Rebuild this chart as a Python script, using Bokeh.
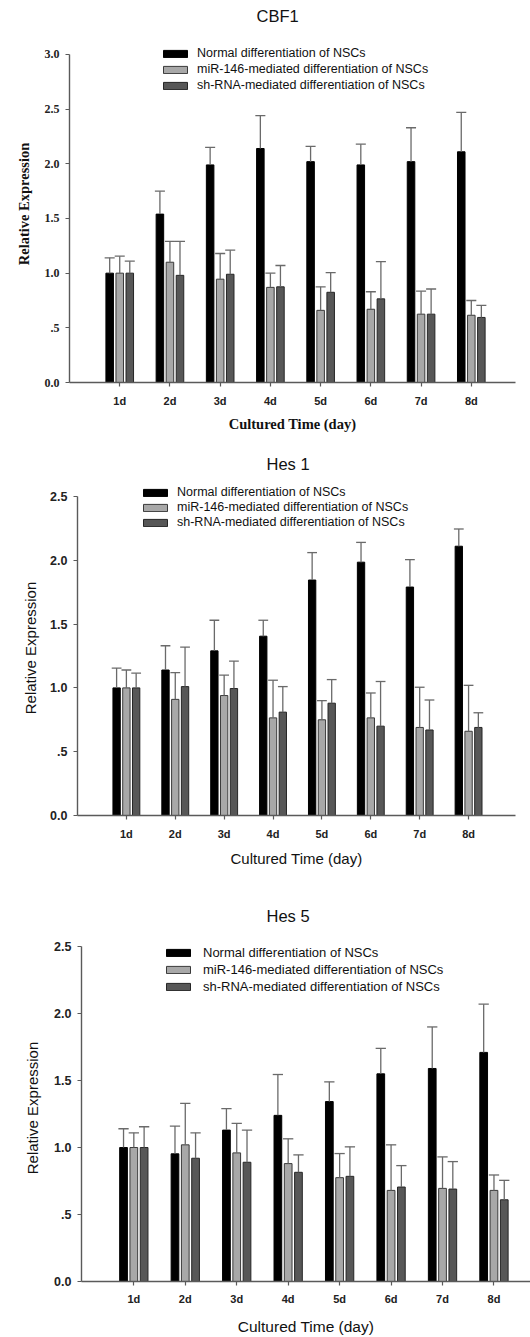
import numpy as np
from bokeh.plotting import figure
from bokeh.models import Legend, LegendItem, FixedTicker, Title, Range1d
from bokeh.embed import file_html
from bokeh.resources import INLINE

days = ["1d", "2d", "3d", "4d", "5d", "6d", "7d", "8d"]
series_names = ["Normal differentiation of NSCs",
                "miR-146-mediated differentiation of NSCs",
                "sh-RNA-mediated differentiation of NSCs"]

# CBF1 (bar value, top of error bar)
cbf1_normal = [1.00, 1.54, 1.99, 2.14, 2.02, 1.99, 2.02, 2.11]
cbf1_normal_top = [1.14, 1.75, 2.15, 2.44, 2.16, 2.18, 2.33, 2.47]
cbf1_mir = [1.00, 1.10, 0.945, 0.87, 0.66, 0.67, 0.625, 0.615]
cbf1_mir_top = [1.155, 1.29, 1.18, 1.00, 0.875, 0.83, 0.835, 0.75]
cbf1_sh = [1.00, 0.98, 0.99, 0.875, 0.825, 0.765, 0.625, 0.595]
cbf1_sh_top = [1.11, 1.29, 1.21, 1.07, 1.005, 1.105, 0.855, 0.705]

# Hes 1
hes1_normal = [1.00, 1.14, 1.29, 1.405, 1.845, 1.985, 1.79, 2.11]
hes1_normal_top = [1.155, 1.33, 1.53, 1.53, 2.06, 2.14, 2.005, 2.245]
hes1_mir = [1.00, 0.91, 0.94, 0.765, 0.75, 0.765, 0.69, 0.66]
hes1_mir_top = [1.14, 1.12, 1.10, 1.06, 0.90, 0.96, 1.005, 1.02]
hes1_sh = [1.00, 1.01, 0.995, 0.81, 0.88, 0.70, 0.67, 0.69]
hes1_sh_top = [1.115, 1.32, 1.21, 1.01, 1.065, 1.05, 0.905, 0.805]

# Hes 5
hes5_normal = [1.00, 0.953, 1.13, 1.24, 1.343, 1.55, 1.59, 1.71]
hes5_normal_top = [1.14, 1.16, 1.29, 1.545, 1.49, 1.74, 1.90, 2.07]
hes5_mir = [1.00, 1.02, 0.96, 0.88, 0.775, 0.68, 0.695, 0.68]
hes5_mir_top = [1.11, 1.33, 1.18, 1.065, 0.955, 1.02, 0.93, 0.795]
hes5_sh = [1.00, 0.92, 0.89, 0.815, 0.785, 0.705, 0.69, 0.61]
hes5_sh_top = [1.155, 1.11, 1.13, 0.945, 1.005, 0.865, 0.895, 0.755]

FILLS = ["#000000", "#a8a8a8", "#575757"]
LINES = ["#000000", "#3a3a3a", "#262626"]
AXIS_C = "#5a5a5a"
ERR_C = "#6a6a6a"


def make_panel(title, vals, tops, cfg):
    p = figure(width=530, height=cfg["height"], output_backend="svg",
               toolbar_location=None,
               x_range=Range1d(*cfg["xr"]), y_range=Range1d(0, cfg["yend"]),
               min_border_left=cfg["bl"], min_border_right=cfg["br"],
               min_border_top=cfg["bt"], min_border_bottom=cfg["bb"])
    p.outline_line_color = None
    p.grid.visible = False
    p.background_fill_color = "white"
    p.border_fill_color = "white"

    base = np.arange(1, len(days) + 1)
    offsets = [-0.2, 0.0, 0.2]
    renderers = []
    for k in range(3):
        xs = base + offsets[k]
        r = p.vbar(x=xs, top=vals[k], width=0.15, bottom=0,
                   fill_color=FILLS[k], line_color=LINES[k], line_width=1)
        renderers.append(r)
        p.segment(x0=xs, y0=vals[k], x1=xs, y1=tops[k],
                  line_color=ERR_C, line_width=1.3)
        p.segment(x0=xs - 0.1, y0=tops[k], x1=xs + 0.1, y1=tops[k],
                  line_color=ERR_C, line_width=1.3)

    tf = cfg["tick_font"]
    # x axis
    xa = p.xaxis[0]
    xa.ticker = FixedTicker(ticks=list(base))
    xa.major_label_overrides = {int(b): d for b, d in zip(base, days)}
    xa.axis_label = "Cultured Time (day)"
    xa.axis_label_text_font = cfg["xlab_font"]
    xa.axis_label_text_font_style = cfg["xlab_style"]
    xa.axis_label_text_font_size = cfg["xlab_size"]
    xa.axis_label_text_color = "#111111"
    xa.axis_label_standoff = cfg["xlab_standoff"]
    xa.major_label_text_font = "Liberation Sans"
    xa.major_label_text_font_style = "bold"
    xa.major_label_text_font_size = "11px"
    xa.major_label_text_color = "#222222"
    xa.major_label_standoff = cfg["xtick_standoff"]
    # y axis
    ya = p.yaxis[0]
    yt = [v * 0.5 for v in range(int(round(cfg["ymax"] / 0.5)) + 1)]
    ya.ticker = FixedTicker(ticks=yt)
    ya.bounds = (0, cfg["ymax"])
    ya.major_label_overrides = {t: (".5" if t == 0.5 else "%.1f" % t) for t in yt}
    ya.axis_label = "Relative Expression"
    ya.axis_label_text_font = cfg["ylab_font"]
    ya.axis_label_text_font_style = cfg["xlab_style"]
    ya.axis_label_text_font_size = cfg["ylab_size"]
    ya.axis_label_text_color = "#111111"
    ya.axis_label_standoff = cfg["ylab_standoff"]
    ya.major_label_text_font = tf
    ya.major_label_text_font_style = "bold"
    ya.major_label_text_font_size = cfg["ytick_size"]
    ya.major_label_text_color = "#222222"
    ya.major_label_standoff = 6
    for ax in (xa, ya):
        ax.axis_line_color = AXIS_C
        ax.axis_line_width = 1.4
        ax.major_tick_line_color = AXIS_C
        ax.major_tick_line_width = 1.2
        ax.major_tick_in = 0
        ax.major_tick_out = 4
        ax.minor_tick_line_color = None

    legend = Legend(items=[LegendItem(label=series_names[k], renderers=[renderers[k]])
                           for k in range(3)],
                    location=cfg["leg_loc"], orientation="vertical",
                    glyph_width=30, glyph_height=9, label_height=cfg["leg_lh"],
                    label_standoff=cfg["leg_standoff"], spacing=cfg["leg_spacing"],
                    padding=0, margin=0, border_line_color=None,
                    background_fill_alpha=0,
                    label_text_font="Liberation Sans", label_text_font_size=cfg["leg_size"],
                    label_text_color="#111111")
    p.add_layout(legend, "center")

    p.title = Title(text=title, align="left", offset=cfg["t_off"], standoff=cfg["t_standoff"],
                    text_font="Liberation Sans", text_font_style="normal",
                    text_font_size="16.5px", text_color="#111111")
    return p


p1 = make_panel("CBF1",
                [cbf1_normal, cbf1_mir, cbf1_sh],
                [cbf1_normal_top, cbf1_mir_top, cbf1_sh_top],
                dict(height=440, xr=(0.0, 8.88), ymax=3.0, yend=3.265, bl=69, br=15, bt=25, bb=58,
                     tick_font="Liberation Serif", ytick_size="12px",
                     xlab_font="Liberation Serif", ylab_font="Liberation Serif",
                     xlab_style="bold", xlab_size="14.5px", ylab_size="14.5px",
                     xlab_standoff=6, xtick_standoff=8, ylab_standoff=10,
                     leg_loc=(91, 290), leg_lh=12, leg_spacing=2, leg_standoff=7,
                     leg_size="12.5px", t_off=187, t_standoff=2))

p2 = make_panel("Hes 1",
                [hes1_normal, hes1_mir, hes1_sh],
                [hes1_normal_top, hes1_mir_top, hes1_sh_top],
                dict(height=445, xr=(0.0, 8.96), ymax=2.5, yend=2.625, bl=77, br=15, bt=40, bb=70,
                     tick_font="Liberation Sans", ytick_size="12.5px",
                     xlab_font="Liberation Sans", ylab_font="Liberation Sans",
                     xlab_style="normal", xlab_size="15px", ylab_size="15px",
                     xlab_standoff=7, xtick_standoff=8, ylab_standoff=8,
                     leg_loc=(63, 286), leg_lh=12, leg_spacing=1, leg_standoff=7,
                     leg_size="12.5px", t_off=189, t_standoff=16))

p3 = make_panel("Hes 5",
                [hes5_normal, hes5_mir, hes5_sh],
                [hes5_normal_top, hes5_mir_top, hes5_sh_top],
                dict(height=452, xr=(-0.017, 8.71), ymax=2.5, yend=2.59, bl=81, br=0, bt=49, bb=56,
                     tick_font="Liberation Sans", ytick_size="12.5px",
                     xlab_font="Liberation Sans", ylab_font="Liberation Sans",
                     xlab_style="normal", xlab_size="15.5px", ylab_size="15px",
                     xlab_standoff=10, xtick_standoff=7, ylab_standoff=10,
                     leg_loc=(82, 287), leg_lh=13, leg_spacing=2, leg_standoff=10,
                     leg_size="13px", t_off=185, t_standoff=20))

# separate roots so that each panel keeps its own frame geometry
open("out.html", "w").write(file_html([p1, p2, p3], INLINE))
